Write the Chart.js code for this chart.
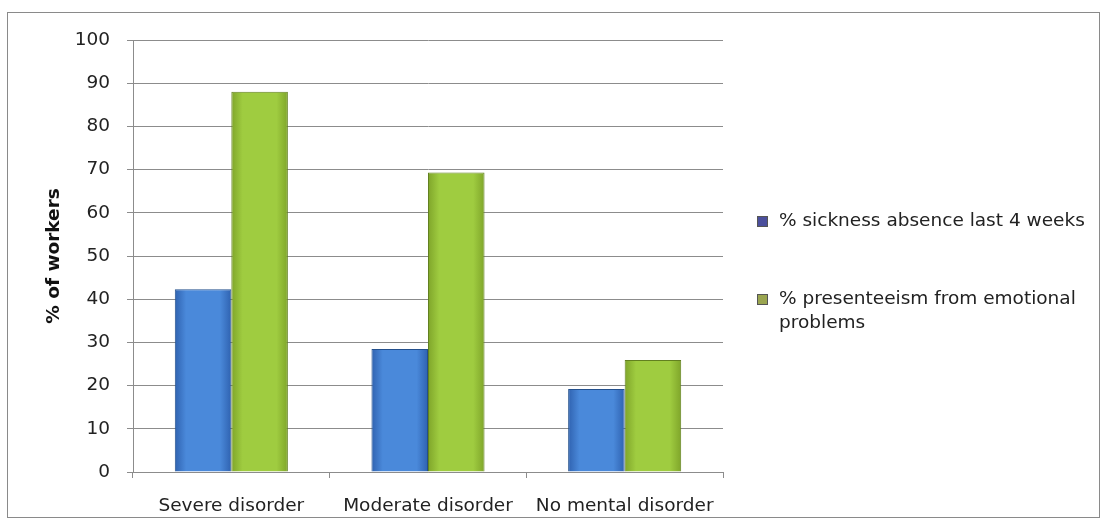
<!DOCTYPE html>
<html>
<head>
<meta charset="utf-8">
<script src="https://cdn.jsdelivr.net/npm/chart.js@4.4.1/dist/chart.umd.min.js"></script>
<style>
  html, body { margin: 0; padding: 0; background: #fff; }
  #wrap { position: relative; width: 1107px; height: 525px; font-family: "DejaVu Sans", sans-serif; }
  #frame { position: absolute; left: 7px; top: 12px; width: 1093px; height: 506px; border: 1px solid #8a8a8a; box-sizing: border-box; }
  canvas { position: absolute; left: 0; top: 0; }
  #legend { position: absolute; left: 752px; top: 208px; font-size: 18.5px; color: #222; }
  .item { position: relative; padding-left: 27px; line-height: 24px; margin-bottom: 54px; width: 330px; }
  .sw { position: absolute; left: 5px; top: 8px; width: 9px; height: 9px; border: 1px solid #555; }
</style>
</head>
<body>
<div id="wrap">
  <div id="frame"></div>
  <canvas id="c" width="1107" height="525"></canvas>
  <div id="legend"></div>
</div>
<script>
// Categories and series
const categories = ["Severe disorder", "Moderate disorder", "No mental disorder"];
const sicknessAbsence = [42.3, 28.5, 19.2];
const presenteeism = [88.0, 69.3, 25.9];
const seriesNames = ["% sickness absence last 4 weeks", "% presenteeism from emotional problems"];
const yTicks = [0, 10, 20, 30, 40, 50, 60, 70, 80, 90, 100];

const FONT = { family: "'DejaVu Sans', sans-serif", size: 18.5 };
const CAT_PCT = 0.575;

// Shaded fill across each bar, darker at the edges
function barFill(edge, mid) {
  return (ctx) => {
    const x = ctx.chart.scales && ctx.chart.scales.x;
    if (!x || ctx.type !== "data" || !isFinite(x.left) || x.right <= x.left) return mid;
    const n = ctx.chart.data.labels.length;
    const cat = (x.right - x.left) / n;
    const bw = cat * CAT_PCT / 2;
    const center = x.left + cat * (ctx.dataIndex + 0.5) + (ctx.datasetIndex === 0 ? -bw / 2 : bw / 2);
    const x0 = center - bw / 2, x1 = center + bw / 2;
    const g = ctx.chart.ctx.createLinearGradient(x0, 0, x1, 0);
    g.addColorStop(0, edge);
    g.addColorStop(0.2, mid);
    g.addColorStop(0.8, mid);
    g.addColorStop(1, edge);
    return g;
  };
}

const chart = new Chart(document.getElementById("c"), {
  type: "bar",
  data: {
    labels: categories,
    datasets: [
      {
        label: seriesNames[0],
        data: sicknessAbsence,
        backgroundColor: barFill("#2f62b0", "#4a89da"),
        borderColor: "#24508c",
        borderWidth: 1,
        legendColor: "#4b4f9c"
      },
      {
        label: seriesNames[1],
        data: presenteeism,
        backgroundColor: barFill("#7fa52a", "#9fcc40"),
        borderColor: "#62801f",
        borderWidth: 1,
        legendColor: "#9aa550"
      }
    ]
  },
  options: {
    responsive: false,
    animation: false,
    layout: { padding: { left: 41, top: 40, right: 384, bottom: 0 } },
    datasets: { bar: { categoryPercentage: CAT_PCT, barPercentage: 1.0 } },
    plugins: { legend: { display: false }, tooltip: { enabled: false } },
    scales: {
      x: {
        grid: { drawOnChartArea: false, offset: true, tickLength: 6, color: "#8c8c8c" },
        border: { color: "#8c8c8c" },
        ticks: { font: FONT, color: "#222", padding: 17, maxRotation: 0 },
        afterFit: (s) => { s.height = 53; }
      },
      y: {
        min: 0, max: 100,
        afterBuildTicks: (s) => { s.ticks = yTicks.map(v => ({ value: v })); },
        grid: { color: "#8c8c8c", tickLength: 6 },
        border: { color: "#8c8c8c" },
        ticks: { font: FONT, color: "#222", padding: 17 },
        title: { display: true, text: "% of workers", font: { ...FONT, weight: "bold" }, color: "#111", padding: { top: 2, bottom: 4 } },
        afterFit: (s) => { s.width = 92; }
      }
    }
  }
});

// HTML legend built from the datasets
const legend = document.getElementById("legend");
chart.data.datasets.forEach(ds => {
  const item = document.createElement("div");
  item.className = "item";
  const sw = document.createElement("span");
  sw.className = "sw";
  sw.style.background = ds.legendColor;
  item.appendChild(sw);
  item.appendChild(document.createTextNode(ds.label));
  legend.appendChild(item);
});
</script>
</body>
</html>
